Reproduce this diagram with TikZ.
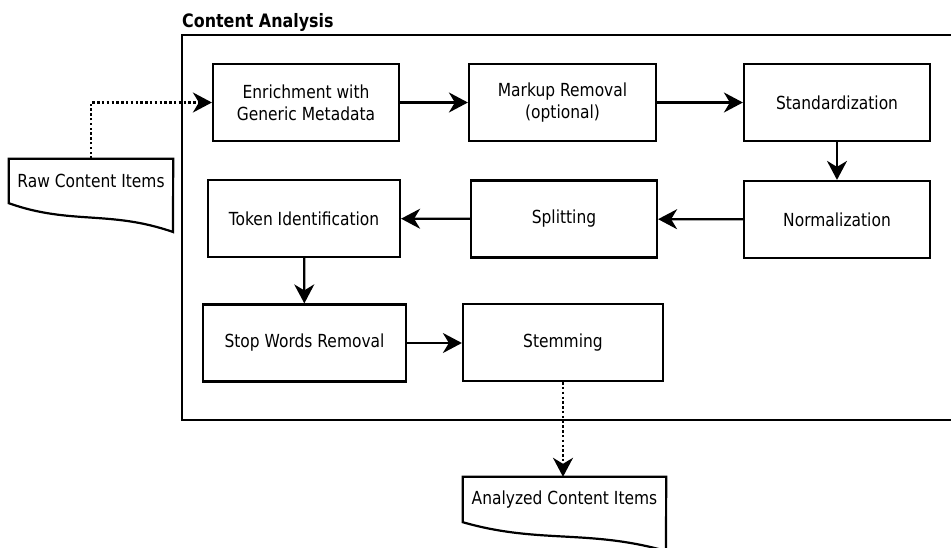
\documentclass[tikz,border=0pt]{standalone}
\usepackage{fontspec}
\setmainfont{DejaVu Sans}[FakeStretch=0.86]
\usetikzlibrary{arrows.meta}

\begin{document}
\begin{tikzpicture}[x=1pt, y=-1pt,
  stepbox/.style={draw=black, line width=2.2pt, inner sep=2pt, align=center,
    font=\fontsize{18}{22}\selectfont, minimum height=77pt},
  doclabel/.style={inner sep=0pt, align=center, font=\fontsize{18}{22}\selectfont},
  docline/.style={draw=black, line width=2.2pt, line join=miter},
  flow/.style={line width=2.2pt, -{Stealth[length=19pt, width=20pt, inset=6pt]}},
  dotflow/.style={flow, dash pattern=on 2.4pt off 2.4pt},
]
\useasboundingbox (0,0) rectangle (951,547);
\clip (0,0) rectangle (951,547);

% title and surrounding frame
\node[anchor=base west, inner sep=0pt, font=\fontsize{18.5}{21}\selectfont\bfseries]
  (title) at (182,27) {Content Analysis};
\draw[line width=2.2pt] (182,35) rectangle (980,420);

% processing steps
\node[stepbox, minimum width=186pt] (enrich) at (306,102.5) {Enrichment with\\Generic Metadata};
\node[stepbox, minimum width=187pt] (markup) at (562.5,102.5) {Markup Removal\\(optional)};
\node[stepbox, minimum width=186pt] (std)    at (837,102.5) {Standardization};
\node[stepbox, minimum width=186pt] (norm)   at (837,219.5) {Normalization};
\node[stepbox, minimum width=186pt] (split)  at (564,219) {Splitting};
\node[stepbox, minimum width=192pt] (token)  at (304,218.5) {Token Identification};
\node[stepbox, minimum width=203pt] (stop)   at (304.5,343) {Stop Words Removal};
\node[stepbox, minimum width=200pt] (stem)   at (563,342.5) {Stemming};

% input document
\node[doclabel, minimum width=164pt, minimum height=44pt] (raw) at (91,181) {Raw Content Items};
\draw[docline] (raw.south west) -- (raw.north west) -- (raw.north east) -- (173,232)
  .. controls (110,210) and (70,225) .. (raw.south west) -- cycle;

% output document
\node[doclabel, minimum width=203pt, minimum height=45pt] (out) at (564.5,499.5) {Analyzed Content Items};
\draw[docline] (out.south west) -- (out.north west) -- (out.north east) -- (666,551)
  .. controls (588,529) and (538.5,544) .. (out.south west) -- cycle;

% connectors
\draw[dotflow] (raw.north) |- (enrich.west);
\draw[flow] (enrich) -- (markup);
\draw[flow] (markup) -- (std);
\draw[flow] (std) -- (norm);
\draw[flow] (norm) -- (split);
\draw[flow] (split) -- (token);
\draw[flow] (token) -- (stop);
\draw[flow] (stop) -- (stop -| stem.west);
\draw[dotflow] (stem.south) -- (stem.south |- out.north);
\end{tikzpicture}
\end{document}
